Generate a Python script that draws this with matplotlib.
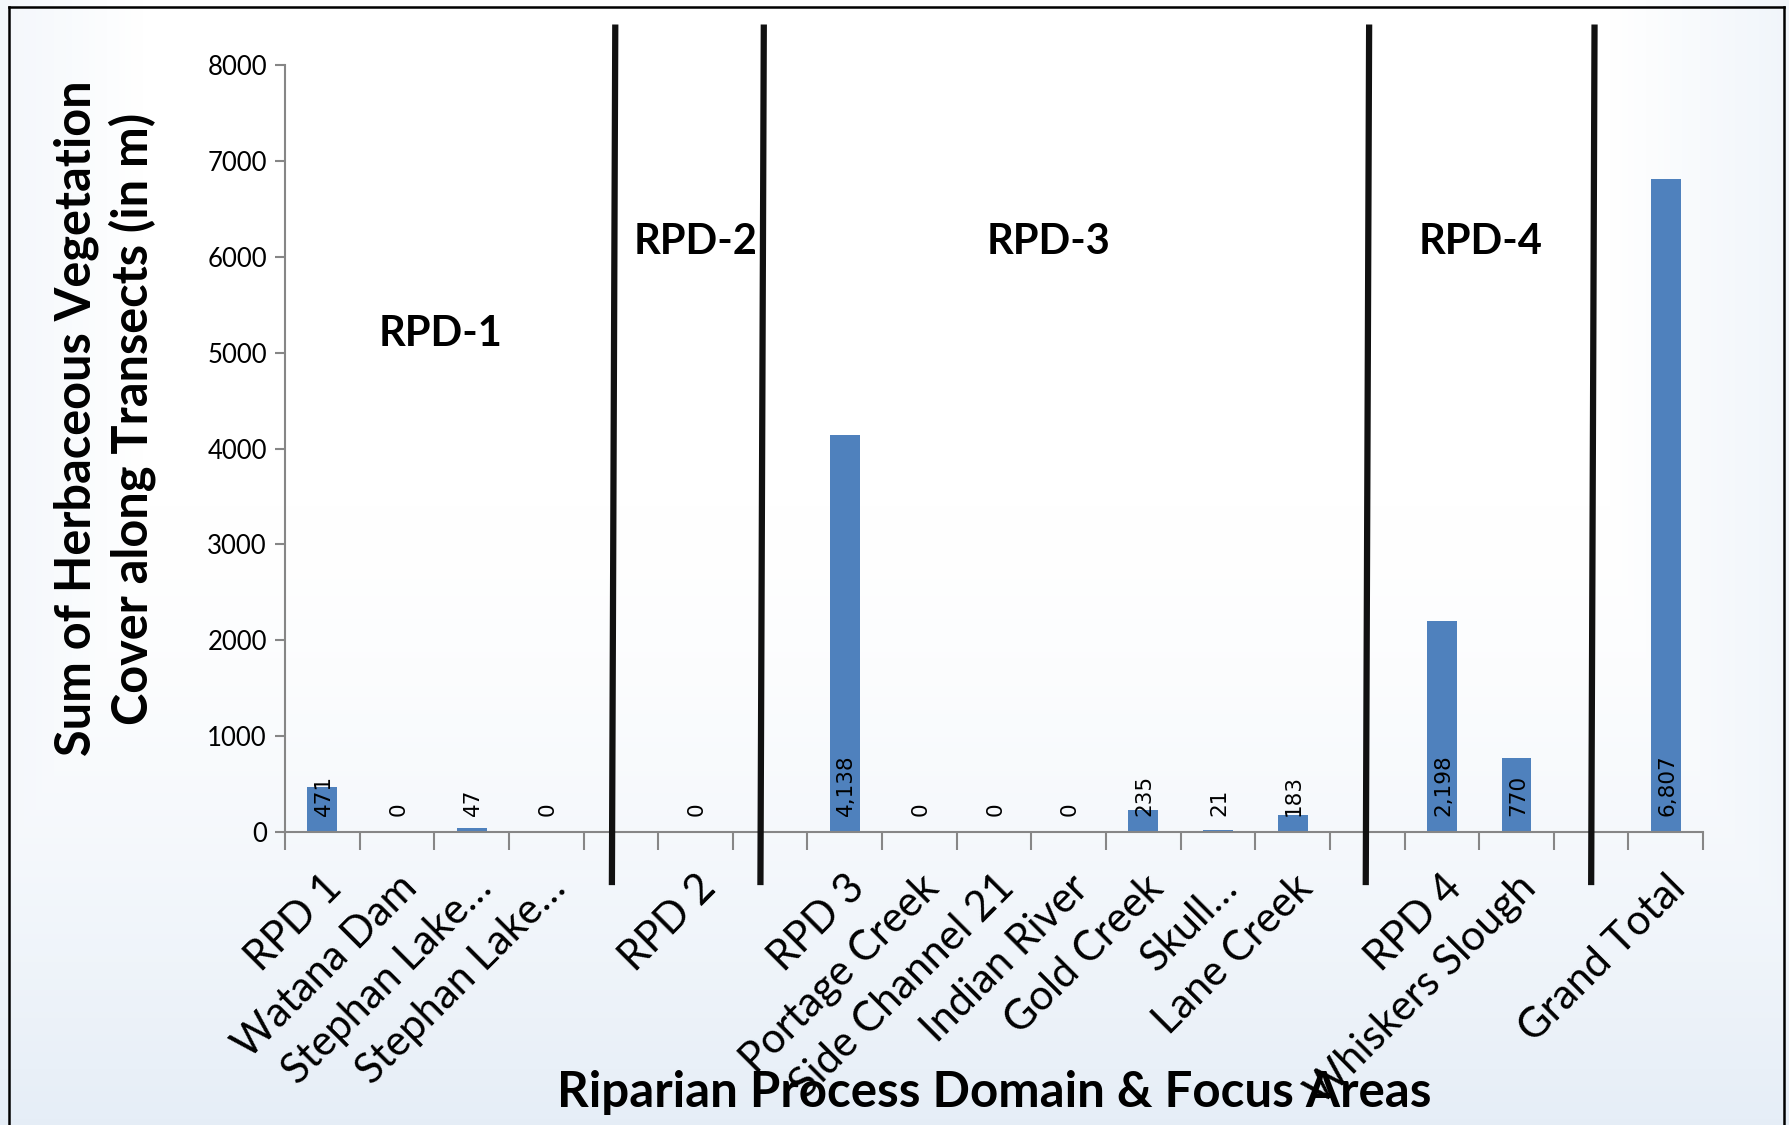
import numpy as np
import matplotlib
matplotlib.use("Agg")
import matplotlib.pyplot as plt
from matplotlib.lines import Line2D

# herbaceous cover per focus area, blank slots separate the process domains
categories = ["RPD 1", "Watana Dam", "Stephan Lake…", "Stephan Lake…", "",
              "RPD 2", "",
              "RPD 3", "Portage Creek", "Side Channel 21", "Indian River",
              "Gold Creek", "Skull…", "Lane Creek", "",
              "RPD 4", "Whiskers Slough", "",
              "Grand Total"]
values = [471, 0, 47, 0, None,
          0, None,
          4138, 0, 0, 0, 235, 21, 183, None,
          2198, 770, None,
          6807]
domain_names = ["RPD-1", "RPD-2", "RPD-3", "RPD-4"]
domain_label_x = [1.58, 5.0, 9.73, 15.52]
domain_label_y = [5194, 6154, 6154, 6154]
divider_x = [3.88, 5.87, 13.98, 17.0]

BAR = "#4F81BD"
GREY = "#868686"

fig = plt.figure(figsize=(17.89, 11.25), dpi=100)

# soft slide background
bg = fig.add_axes([0, 0, 1, 1], zorder=-10)
yy, xx = np.mgrid[0:1:200j, 0:1:300j]
w = np.clip((yy - 0.45) / 0.55, 0, 1) ** 1.5 * 0.9
w = np.maximum(w, np.clip((xx - 0.9) / 0.1, 0, 1) * 0.5)
w = np.maximum(w, np.clip((0.08 - xx) / 0.08, 0, 1) * 0.4)
edge = np.array([0.89, 0.925, 0.965])
img = (1 - w[..., None]) * 1.0 + w[..., None] * edge
bg.imshow(img, extent=[0, 1, 0, 1], aspect="auto", origin="upper")
bg.axis("off")

ax = fig.add_axes([0.1593, 0.2604, 0.952 - 0.1593, 0.9422 - 0.2604])
ax.patch.set_alpha(0)

x = np.arange(len(categories))
for i, v in enumerate(values):
    if v is None:
        continue
    ax.bar(i, v, width=0.4, color=BAR, zorder=2)
    ax.annotate(f"{v:,}", (i, 0), xytext=(1, 11.5), textcoords="offset points",
                rotation=90, ha="center", va="bottom", fontsize=15.5,
                family="DejaVu Sans", color="black", zorder=3)

ax.set_xlim(-0.5, len(categories) - 0.5)
ax.set_ylim(0, 8000)
ax.set_yticks(np.arange(0, 8001, 1000))
ax.set_xticks(np.arange(-0.5, len(categories), 1.0))
ax.set_xticklabels([])
ax.set_xticks(x, minor=True)
ax.set_xticklabels(categories, minor=True, rotation=45, ha="right",
                   rotation_mode="anchor", fontsize=30, family="Lato")
ax.tick_params(axis="x", which="minor", length=0, pad=26)
ax.tick_params(axis="x", which="major", length=13, width=1.5, color=GREY,
               direction="out")
ax.tick_params(axis="y", length=7, width=1.5, color=GREY, direction="out",
               labelsize=18.5, pad=6)
for lab in ax.get_yticklabels():
    lab.set_family("Lato")

for s in ["top", "right"]:
    ax.spines[s].set_visible(False)
for s in ["left", "bottom"]:
    ax.spines[s].set_color(GREY)
    ax.spines[s].set_linewidth(1.5)

# hand-drawn domain separators
for dx in divider_x:
    ax.add_line(Line2D([dx, dx + 0.045], [-521, 8390], color="#111111",
                       lw=4.5, clip_on=False, zorder=4))

for name, lx, ly in zip(domain_names, domain_label_x, domain_label_y):
    ax.text(lx, ly, name, ha="center", va="center", fontsize=30,
            family="Lato", weight="bold")

fig.text(0.0585, 0.628, "Sum of Herbaceous Vegetation\nCover along Transects (in m)",
         rotation=90, ha="center", va="center", multialignment="center",
         fontsize=35, family="Lato", weight="bold", linespacing=1.22)
fig.text(0.556, 0.029, "Riparian Process Domain & Focus Areas", ha="center",
         va="center", fontsize=35.5, family="Lato", weight="bold")

# slide frame
frame = dict(color="black", lw=1.8, transform=fig.transFigure)
fig.add_artist(Line2D([0.0049, 0.0049], [0, 0.994], **frame))
fig.add_artist(Line2D([0.0049, 0.9972], [0.994, 0.994], **frame))
fig.add_artist(Line2D([0.9972, 0.9972], [0, 0.994], **frame))

fig.savefig("out.png", dpi=100)
